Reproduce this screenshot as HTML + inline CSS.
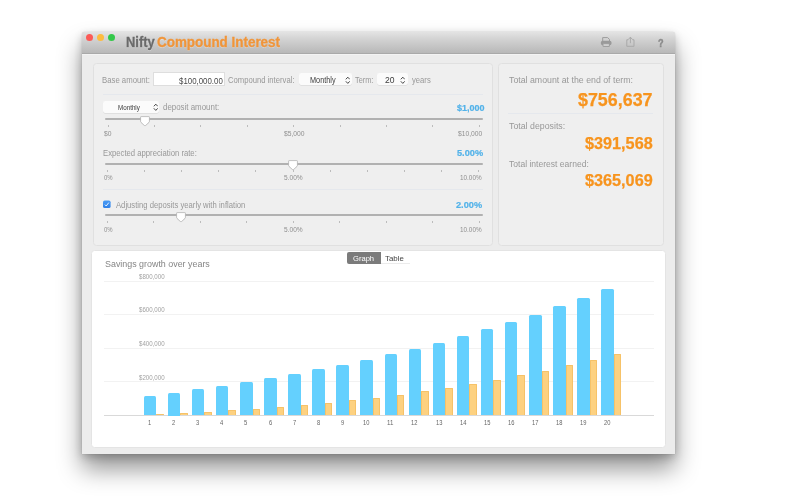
<!DOCTYPE html>
<html><head><meta charset="utf-8"><title>Nifty Compound Interest</title>
<style>
html,body{margin:0;padding:0;background:#fff;}
body{width:800px;height:500px;position:relative;overflow:hidden;font-family:"Liberation Sans",sans-serif;}
div,span{box-sizing:border-box;}
.a{position:absolute;white-space:nowrap;}
#win{position:absolute;left:82px;top:31.5px;width:593px;height:422px;background:#ececec;border-radius:3px 3px 0 0;
 box-shadow:0 0 1px rgba(0,0,0,.3),0 15px 24px rgba(0,0,0,.42),0 3px 9px rgba(0,0,0,.2);}
#tb{position:absolute;left:82px;top:31.5px;width:593px;height:22px;border-radius:3px 3px 0 0;
 background:linear-gradient(#e3e3e3,#d2d2d2 35%,#b8b8b8);border-bottom:1px solid #a9a9a9;}
.tl{position:absolute;top:33.8px;width:7px;height:7px;border-radius:50%;}
.pn{position:absolute;border:1px solid #e0e0e0;border-radius:3.5px;background:#efefef;}
.sel{position:absolute;background:#fbfbfb;border-radius:2px;box-shadow:0 0.5px 0.5px rgba(0,0,0,.12);}
.trk{position:absolute;left:105px;width:378px;height:2px;background:#b1b1b1;border-radius:1px;}
.tk{position:absolute;width:1px;height:2.4px;background:#bcbcbc;}
.dv{position:absolute;height:1px;background:#e5e8ed;}
.gl{position:absolute;left:104px;width:549.5px;height:1px;background:#f2f2f2;}
.bb{position:absolute;width:12.5px;background:#64d0fe;border-radius:1.5px 1.5px 0 0;}
.ob{position:absolute;width:7.4px;background:#fdd180;border:0.6px solid #f6c268;border-bottom:0;border-radius:1px 1px 0 0;}
</style></head><body>
<div id="win"></div>
<div id="layer" style="position:absolute;left:0;top:0;width:800px;height:500px;will-change:transform;">
<div id="tb"></div>
<div class="a" style="left:82px;top:53.5px;width:593px;height:1px;background:#f3f3f3;"></div>
<div class="tl" style="left:86px;background:#fc5b57;"></div>
<div class="tl" style="left:97.2px;background:#fdbc40;"></div>
<div class="tl" style="left:108.2px;background:#34c84a;"></div>
<div class="a" style="left:125.50px;top:33px;font-size:14px;line-height:18px;transform:scaleX(0.9234);transform-origin:0 0;color:#6a6a6a;font-weight:bold;text-shadow:0 1px 0 rgba(255,255,255,.35);-webkit-text-stroke:0.3px #6a6a6a;">Nifty</div>
<div class="a" style="left:156.50px;top:33px;font-size:14px;line-height:18px;transform:scaleX(0.9586);transform-origin:0 0;color:#f0953a;font-weight:bold;text-shadow:0 1px 0 rgba(255,255,255,.3);-webkit-text-stroke:0.3px #f0953a;">Compound Interest</div>

<!-- toolbar icons -->
<svg class="a" style="left:600px;top:36px" width="12" height="12" viewBox="0 0 12 12"><path d="M2.7 5 V1.6 H7.6 L9.5 3.4 V5" fill="none" stroke="#9c9c9c" stroke-width="1" stroke-linejoin="round"/><rect x="0.9" y="4.7" width="10.6" height="4.6" rx="1.7" fill="#9a9a9a"/><rect x="3" y="7.6" width="6.4" height="2.9" rx="0.3" fill="#cfcfcf" stroke="#9a9a9a" stroke-width="0.9"/></svg>
<svg class="a" style="left:625px;top:35px" width="11" height="13" viewBox="0 0 11 13"><path d="M3.2 4.8 H1.8 V11.3 H9 V4.8 H7.6 M5.4 8.2 V2.4 M3.2 4.6 L5.4 2.2 L7.6 4.6" fill="none" stroke="#a6a6a6" stroke-width="0.9"/></svg>
<div class="a" style="left:658.30px;top:36px;font-size:10.8px;line-height:14px;transform:scaleX(0.8500);transform-origin:0 0;color:#8b8b8b;font-weight:bold;-webkit-text-stroke:0.45px #8b8b8b;">?</div>

<!-- left panel -->
<div class="pn" style="left:93px;top:63px;width:400px;height:183px;"></div>
<div class="a" style="left:102.10px;top:73px;font-size:9.5px;line-height:13px;transform:scaleX(0.8172);transform-origin:0 0;color:#989898;">Base amount:</div>
<div class="a" style="left:153px;top:72px;width:72px;height:14px;background:#fff;border:1px solid #dedede;"></div>
<div class="a" style="left:179.30px;top:74px;font-size:9.5px;line-height:13px;transform:scaleX(0.8292);transform-origin:0 0;color:#4a4a4a;">$100,000.00</div>
<div class="a" style="left:228.30px;top:73px;font-size:9.5px;line-height:13px;transform:scaleX(0.8074);transform-origin:0 0;color:#989898;">Compound interval:</div>
<div class="sel" style="left:299px;top:73.4px;width:53px;height:11.4px;"></div>
<div class="a" style="left:310.00px;top:74px;font-size:8.4px;line-height:12px;transform:scaleX(0.8707);transform-origin:0 0;color:#3c3c3c;">Monthly</div>
<svg class="a" style="left:344.60px;top:75.60px" width="5.6" height="8.6" viewBox="0 0 5.6 8.6"><path d="M1.1 3.0 L2.8 1.2 L4.5 3.0 M1.1 5.6 L2.8 7.4 L4.5 5.6" fill="none" stroke="#3a3a3a" stroke-width="0.95" stroke-linecap="round" stroke-linejoin="round"/></svg>
<div class="a" style="left:354.50px;top:73px;font-size:9.5px;line-height:13px;transform:scaleX(0.7747);transform-origin:0 0;color:#989898;">Term:</div>
<div class="sel" style="left:377.4px;top:73.4px;width:30.2px;height:11.4px;"></div>
<div class="a" style="left:385.00px;top:74px;font-size:8.6px;line-height:12px;transform:scaleX(0.9952);transform-origin:0 0;color:#3c3c3c;">20</div>
<svg class="a" style="left:399.90px;top:75.60px" width="5.6" height="8.6" viewBox="0 0 5.6 8.6"><path d="M1.1 3.0 L2.8 1.2 L4.5 3.0 M1.1 5.6 L2.8 7.4 L4.5 5.6" fill="none" stroke="#3a3a3a" stroke-width="0.95" stroke-linecap="round" stroke-linejoin="round"/></svg>
<div class="a" style="left:411.70px;top:73px;font-size:9.5px;line-height:13px;transform:scaleX(0.8051);transform-origin:0 0;color:#989898;">years</div>
<div class="dv" style="left:103px;top:94px;width:380px;"></div>

<div class="sel" style="left:103.2px;top:101.4px;width:56px;height:11.4px;"></div>
<div class="a" style="left:117.80px;top:102px;font-size:7.2px;line-height:11px;transform:scaleX(0.8690);transform-origin:0 0;color:#383838;">Monthly</div>
<svg class="a" style="left:152.70px;top:103.20px" width="5.6" height="8.6" viewBox="0 0 5.6 8.6"><path d="M1.1 3.0 L2.8 1.2 L4.5 3.0 M1.1 5.6 L2.8 7.4 L4.5 5.6" fill="none" stroke="#3a3a3a" stroke-width="0.95" stroke-linecap="round" stroke-linejoin="round"/></svg>
<div class="a" style="left:163.00px;top:100px;font-size:9.5px;line-height:13px;transform:scaleX(0.8329);transform-origin:0 0;color:#989898;">deposit amount:</div>
<div class="a" style="left:456.50px;top:101px;font-size:9.5px;line-height:13px;transform:scaleX(0.9494);transform-origin:0 0;color:#52b2e9;font-weight:bold;-webkit-text-stroke:0.2px #52b2e9;">$1,000</div>
<div class="trk" style="top:118px;"></div>
<div class="tk" style="left:107.50px;top:125.1px"></div>
<div class="tk" style="left:153.90px;top:125.1px"></div>
<div class="tk" style="left:200.30px;top:125.1px"></div>
<div class="tk" style="left:246.70px;top:125.1px"></div>
<div class="tk" style="left:293.10px;top:125.1px"></div>
<div class="tk" style="left:339.50px;top:125.1px"></div>
<div class="tk" style="left:385.90px;top:125.1px"></div>
<div class="tk" style="left:432.30px;top:125.1px"></div>
<div class="tk" style="left:478.70px;top:125.1px"></div>
<div class="a" style="left:104.30px;top:129px;font-size:7px;line-height:9px;transform:scaleX(0.9588);transform-origin:0 0;color:#8f8f8f;">$0</div>
<div class="a" style="left:283.60px;top:129px;font-size:7px;line-height:9px;transform:scaleX(0.9617);transform-origin:0 0;color:#8f8f8f;">$5,000</div>
<div class="a" style="left:458.00px;top:129px;font-size:7px;line-height:9px;transform:scaleX(0.9603);transform-origin:0 0;color:#8f8f8f;">$10,000</div>

<div class="a" style="left:103.00px;top:146px;font-size:9.5px;line-height:13px;transform:scaleX(0.8110);transform-origin:0 0;color:#989898;">Expected appreciation rate:</div>
<div class="a" style="left:457.40px;top:146px;font-size:9.5px;line-height:13px;transform:scaleX(0.9691);transform-origin:0 0;color:#52b2e9;font-weight:bold;-webkit-text-stroke:0.2px #52b2e9;">5.00%</div>
<div class="trk" style="top:162.7px;"></div>
<div class="tk" style="left:107.00px;top:169.8px"></div>
<div class="tk" style="left:144.10px;top:169.8px"></div>
<div class="tk" style="left:181.20px;top:169.8px"></div>
<div class="tk" style="left:218.30px;top:169.8px"></div>
<div class="tk" style="left:255.40px;top:169.8px"></div>
<div class="tk" style="left:292.50px;top:169.8px"></div>
<div class="tk" style="left:329.60px;top:169.8px"></div>
<div class="tk" style="left:366.70px;top:169.8px"></div>
<div class="tk" style="left:403.80px;top:169.8px"></div>
<div class="tk" style="left:440.90px;top:169.8px"></div>
<div class="tk" style="left:478.00px;top:169.8px"></div>
<div class="a" style="left:104.30px;top:173px;font-size:7px;line-height:9px;transform:scaleX(0.8502);transform-origin:0 0;color:#8f8f8f;">0%</div>
<div class="a" style="left:283.90px;top:173px;font-size:7px;line-height:9px;transform:scaleX(0.9423);transform-origin:0 0;color:#8f8f8f;">5.00%</div>
<div class="a" style="left:460.40px;top:173px;font-size:7px;line-height:9px;transform:scaleX(0.9102);transform-origin:0 0;color:#8f8f8f;">10.00%</div>
<div class="dv" style="left:103px;top:189px;width:380px;"></div>

<svg class="a" style="left:102px;top:199px" width="11" height="11" viewBox="0 0 11 11"><defs><linearGradient id="cbg" x1="0" y1="0" x2="0" y2="1"><stop offset="0" stop-color="#4a9cf5"/><stop offset="1" stop-color="#2f80e8"/></linearGradient></defs><rect x="1" y="1.5" width="7.6" height="7.6" rx="1.7" fill="url(#cbg)"/><path d="M2.9 5.6 L4.2 7 L6.8 3.6" fill="none" stroke="#e6f2ff" stroke-width="1"/></svg>
<div class="a" style="left:115.80px;top:198px;font-size:9.5px;line-height:13px;transform:scaleX(0.8086);transform-origin:0 0;color:#989898;">Adjusting deposits yearly with inflation</div>
<div class="a" style="left:455.90px;top:198px;font-size:9.5px;line-height:13px;transform:scaleX(0.9691);transform-origin:0 0;color:#52b2e9;font-weight:bold;-webkit-text-stroke:0.2px #52b2e9;">2.00%</div>
<div class="trk" style="top:214px;"></div>
<div class="tk" style="left:107.00px;top:221.1px"></div>
<div class="tk" style="left:153.45px;top:221.1px"></div>
<div class="tk" style="left:199.90px;top:221.1px"></div>
<div class="tk" style="left:246.35px;top:221.1px"></div>
<div class="tk" style="left:292.80px;top:221.1px"></div>
<div class="tk" style="left:339.25px;top:221.1px"></div>
<div class="tk" style="left:385.70px;top:221.1px"></div>
<div class="tk" style="left:432.15px;top:221.1px"></div>
<div class="tk" style="left:478.60px;top:221.1px"></div>
<div class="a" style="left:104.30px;top:225px;font-size:7px;line-height:9px;transform:scaleX(0.8502);transform-origin:0 0;color:#8f8f8f;">0%</div>
<div class="a" style="left:283.90px;top:225px;font-size:7px;line-height:9px;transform:scaleX(0.9423);transform-origin:0 0;color:#8f8f8f;">5.00%</div>
<div class="a" style="left:460.40px;top:225px;font-size:7px;line-height:9px;transform:scaleX(0.9102);transform-origin:0 0;color:#8f8f8f;">10.00%</div>

<svg class="a" style="left:140.20px;top:115.70px;filter:drop-shadow(0 0.4px 0.4px rgba(0,0,0,.22))" width="10" height="11" viewBox="0 0 10 11"><path d="M0.6 1.4 q0-.8 .8-.8 h7.2 q.8 0 .8 .8 v4 q0 .5 -.4 .9 l-3.3 3.1 q-.7 .6 -1.4 0 l-3.3 -3.1 q-.4 -.4 -.4 -.9 z" fill="#fff" stroke="#b4b4b4" stroke-width="0.7" stroke-linejoin="round"/></svg>
<svg class="a" style="left:287.90px;top:160.30px;filter:drop-shadow(0 0.4px 0.4px rgba(0,0,0,.22))" width="10" height="11" viewBox="0 0 10 11"><path d="M0.6 1.4 q0-.8 .8-.8 h7.2 q.8 0 .8 .8 v4 q0 .5 -.4 .9 l-3.3 3.1 q-.7 .6 -1.4 0 l-3.3 -3.1 q-.4 -.4 -.4 -.9 z" fill="#fff" stroke="#b4b4b4" stroke-width="0.7" stroke-linejoin="round"/></svg>
<svg class="a" style="left:176.20px;top:211.50px;filter:drop-shadow(0 0.4px 0.4px rgba(0,0,0,.22))" width="10" height="11" viewBox="0 0 10 11"><path d="M0.6 1.4 q0-.8 .8-.8 h7.2 q.8 0 .8 .8 v4 q0 .5 -.4 .9 l-3.3 3.1 q-.7 .6 -1.4 0 l-3.3 -3.1 q-.4 -.4 -.4 -.9 z" fill="#fff" stroke="#b4b4b4" stroke-width="0.7" stroke-linejoin="round"/></svg>

<!-- right panel -->
<div class="pn" style="left:498px;top:63px;width:166px;height:183px;"></div>
<div class="a" style="left:509.00px;top:73px;font-size:9.5px;line-height:13px;transform:scaleX(0.9244);transform-origin:0 0;color:#989898;">Total amount at the end of term:</div>
<div class="a" style="left:578.20px;top:89px;font-size:17.5px;line-height:22px;transform:scaleX(1.0209);transform-origin:0 0;color:#f7941e;font-weight:bold;-webkit-text-stroke:0.25px #f7941e;">$756,637</div>
<div class="dv" style="left:508px;top:113.3px;width:145px;"></div>
<div class="a" style="left:508.80px;top:119px;font-size:9.5px;line-height:13px;transform:scaleX(0.9251);transform-origin:0 0;color:#989898;">Total deposits:</div>
<div class="a" style="left:585.00px;top:133px;font-size:16.4px;line-height:20px;transform:scaleX(0.9899);transform-origin:0 0;color:#f7941e;font-weight:bold;-webkit-text-stroke:0.25px #f7941e;">$391,568</div>
<div class="a" style="left:509.00px;top:157px;font-size:9.5px;line-height:13px;transform:scaleX(0.8994);transform-origin:0 0;color:#989898;">Total interest earned:</div>
<div class="a" style="left:585.00px;top:170px;font-size:16.4px;line-height:20px;transform:scaleX(0.9899);transform-origin:0 0;color:#f7941e;font-weight:bold;-webkit-text-stroke:0.25px #f7941e;">$365,069</div>

<!-- chart panel -->
<div class="pn" style="left:91px;top:250px;width:575px;height:198px;background:#fff;border-color:#e4e4e4;"></div>
<div class="a" style="left:105.20px;top:257px;font-size:9.5px;line-height:13px;transform:scaleX(0.9361);transform-origin:0 0;color:#858585;">Savings growth over years</div>
<div class="a" style="left:347px;top:251.7px;width:34px;height:12px;background:#7b7b7b;border-radius:2px 0 0 2px;"></div>
<div class="a" style="left:352.90px;top:253px;font-size:8px;line-height:11px;transform:scaleX(0.9487);transform-origin:0 0;color:#fff;">Graph</div>
<div class="a" style="left:381px;top:251.7px;width:29px;height:12.3px;border-bottom:1px solid #ebebeb;"></div>
<div class="a" style="left:385.30px;top:253px;font-size:8px;line-height:11px;transform:scaleX(0.9885);transform-origin:0 0;color:#444;">Table</div>
<div class="gl" style="top:280.90px"></div>
<div class="gl" style="top:314.40px"></div>
<div class="gl" style="top:347.90px"></div>
<div class="gl" style="top:381.40px"></div>
<div class="a" style="left:139.40px;top:272px;font-size:6.5px;line-height:9px;transform:scaleX(0.9445);transform-origin:0 0;color:#a2a2a2;">$800,000</div>
<div class="a" style="left:139.40px;top:305px;font-size:6.5px;line-height:9px;transform:scaleX(0.9445);transform-origin:0 0;color:#a2a2a2;">$600,000</div>
<div class="a" style="left:139.40px;top:339px;font-size:6.5px;line-height:9px;transform:scaleX(0.9445);transform-origin:0 0;color:#a2a2a2;">$400,000</div>
<div class="a" style="left:139.40px;top:373px;font-size:6.5px;line-height:9px;transform:scaleX(0.9445);transform-origin:0 0;color:#a2a2a2;">$200,000</div>
<div class="gl" style="top:415.1px;background:#d9d9d9;"></div>
<div class="bb" style="left:143.75px;top:395.86px;height:19.64px"></div>
<div class="ob" style="left:156.25px;top:413.79px;height:1.71px"></div>
<div class="a" style="left:148.15px;top:418px;font-size:6.5px;line-height:9px;transform:scaleX(0.8870);transform-origin:0 0;color:#666;">1</div>
<div class="bb" style="left:167.83px;top:392.75px;height:22.75px"></div>
<div class="ob" style="left:180.33px;top:412.73px;height:2.77px"></div>
<div class="a" style="left:172.23px;top:418px;font-size:6.5px;line-height:9px;transform:scaleX(0.8870);transform-origin:0 0;color:#666;">2</div>
<div class="bb" style="left:191.91px;top:389.44px;height:26.06px"></div>
<div class="ob" style="left:204.41px;top:411.51px;height:3.99px"></div>
<div class="a" style="left:196.31px;top:418px;font-size:6.5px;line-height:9px;transform:scaleX(0.8870);transform-origin:0 0;color:#666;">3</div>
<div class="bb" style="left:215.99px;top:385.92px;height:29.58px"></div>
<div class="ob" style="left:228.49px;top:410.11px;height:5.39px"></div>
<div class="a" style="left:220.39px;top:418px;font-size:6.5px;line-height:9px;transform:scaleX(0.8870);transform-origin:0 0;color:#666;">4</div>
<div class="bb" style="left:240.07px;top:382.17px;height:33.33px"></div>
<div class="ob" style="left:252.57px;top:408.54px;height:6.96px"></div>
<div class="a" style="left:244.47px;top:418px;font-size:6.5px;line-height:9px;transform:scaleX(0.8870);transform-origin:0 0;color:#666;">5</div>
<div class="bb" style="left:264.15px;top:378.19px;height:37.31px"></div>
<div class="ob" style="left:276.65px;top:406.78px;height:8.72px"></div>
<div class="a" style="left:268.55px;top:418px;font-size:6.5px;line-height:9px;transform:scaleX(0.8870);transform-origin:0 0;color:#666;">6</div>
<div class="bb" style="left:288.23px;top:373.96px;height:41.54px"></div>
<div class="ob" style="left:300.73px;top:404.80px;height:10.70px"></div>
<div class="a" style="left:292.63px;top:418px;font-size:6.5px;line-height:9px;transform:scaleX(0.8870);transform-origin:0 0;color:#666;">7</div>
<div class="bb" style="left:312.31px;top:369.46px;height:46.04px"></div>
<div class="ob" style="left:324.81px;top:402.62px;height:12.88px"></div>
<div class="a" style="left:316.71px;top:418px;font-size:6.5px;line-height:9px;transform:scaleX(0.8870);transform-origin:0 0;color:#666;">8</div>
<div class="bb" style="left:336.39px;top:364.69px;height:50.81px"></div>
<div class="ob" style="left:348.89px;top:400.20px;height:15.30px"></div>
<div class="a" style="left:340.79px;top:418px;font-size:6.5px;line-height:9px;transform:scaleX(0.8870);transform-origin:0 0;color:#666;">9</div>
<div class="bb" style="left:360.47px;top:359.63px;height:55.87px"></div>
<div class="ob" style="left:372.97px;top:397.53px;height:17.97px"></div>
<div class="a" style="left:363.27px;top:418px;font-size:6.5px;line-height:9px;transform:scaleX(0.8870);transform-origin:0 0;color:#666;">10</div>
<div class="bb" style="left:384.55px;top:354.26px;height:61.24px"></div>
<div class="ob" style="left:397.05px;top:394.60px;height:20.90px"></div>
<div class="a" style="left:387.35px;top:418px;font-size:6.5px;line-height:9px;transform:scaleX(0.9467);transform-origin:0 0;color:#666;">11</div>
<div class="bb" style="left:408.63px;top:348.56px;height:66.94px"></div>
<div class="ob" style="left:421.13px;top:391.40px;height:24.10px"></div>
<div class="a" style="left:411.43px;top:418px;font-size:6.5px;line-height:9px;transform:scaleX(0.8870);transform-origin:0 0;color:#666;">12</div>
<div class="bb" style="left:432.71px;top:342.52px;height:72.98px"></div>
<div class="ob" style="left:445.21px;top:387.91px;height:27.59px"></div>
<div class="a" style="left:435.51px;top:418px;font-size:6.5px;line-height:9px;transform:scaleX(0.8870);transform-origin:0 0;color:#666;">13</div>
<div class="bb" style="left:456.79px;top:336.12px;height:79.38px"></div>
<div class="ob" style="left:469.29px;top:384.10px;height:31.40px"></div>
<div class="a" style="left:459.59px;top:418px;font-size:6.5px;line-height:9px;transform:scaleX(0.8870);transform-origin:0 0;color:#666;">14</div>
<div class="bb" style="left:480.87px;top:329.34px;height:86.16px"></div>
<div class="ob" style="left:493.37px;top:379.97px;height:35.53px"></div>
<div class="a" style="left:483.67px;top:418px;font-size:6.5px;line-height:9px;transform:scaleX(0.8870);transform-origin:0 0;color:#666;">15</div>
<div class="bb" style="left:504.95px;top:322.15px;height:93.35px"></div>
<div class="ob" style="left:517.45px;top:375.49px;height:40.01px"></div>
<div class="a" style="left:507.75px;top:418px;font-size:6.5px;line-height:9px;transform:scaleX(0.8870);transform-origin:0 0;color:#666;">16</div>
<div class="bb" style="left:529.03px;top:314.54px;height:100.96px"></div>
<div class="ob" style="left:541.53px;top:370.63px;height:44.87px"></div>
<div class="a" style="left:531.83px;top:418px;font-size:6.5px;line-height:9px;transform:scaleX(0.8870);transform-origin:0 0;color:#666;">17</div>
<div class="bb" style="left:553.11px;top:306.49px;height:109.01px"></div>
<div class="ob" style="left:565.61px;top:365.39px;height:50.11px"></div>
<div class="a" style="left:555.91px;top:418px;font-size:6.5px;line-height:9px;transform:scaleX(0.8870);transform-origin:0 0;color:#666;">18</div>
<div class="bb" style="left:577.19px;top:297.97px;height:117.53px"></div>
<div class="ob" style="left:589.69px;top:359.74px;height:55.76px"></div>
<div class="a" style="left:579.99px;top:418px;font-size:6.5px;line-height:9px;transform:scaleX(0.8870);transform-origin:0 0;color:#666;">19</div>
<div class="bb" style="left:601.27px;top:288.95px;height:126.55px"></div>
<div class="ob" style="left:613.77px;top:353.64px;height:61.86px"></div>
<div class="a" style="left:604.07px;top:418px;font-size:6.5px;line-height:9px;transform:scaleX(0.8870);transform-origin:0 0;color:#666;">20</div>
</div>
</body></html>
